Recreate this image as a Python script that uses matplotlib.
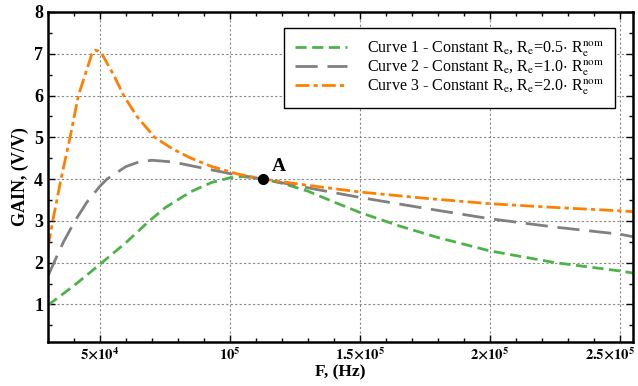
import matplotlib
matplotlib.use("Agg")
import matplotlib.pyplot as plt
import matplotlib.transforms as mtransforms
from matplotlib.ticker import MultipleLocator

plt.rcParams['font.family'] = ['Liberation Serif', 'DejaVu Serif']
plt.rcParams['mathtext.fontset'] = 'stix'

# Frequency in units of 1e4 Hz (scaled to Hz when plotting)
f1 = [3.0, 4.0, 5.0, 6.0, 6.9, 7.52, 8.5, 9.3, 10.0, 10.5, 11.27, 12.0, 13.0, 14.0, 15.0,
      16.5, 18.0, 20.0, 22.5, 25.0, 25.5]
g1 = [0.98, 1.45, 1.96, 2.48, 3.0, 3.32, 3.7, 3.92, 4.03, 4.06, 4.0, 3.9, 3.71, 3.45, 3.2,
      2.88, 2.6, 2.28, 2.0, 1.8, 1.75]

f2 = [3.0, 3.23, 3.6, 4.04, 4.5, 5.0, 5.27, 6.0, 6.5, 7.0, 7.8, 8.5, 9.3, 10.0, 11.27,
      13.0, 15.0, 17.5, 20.0, 22.5, 25.0, 25.5]
g2 = [1.68, 2.0, 2.5, 3.0, 3.45, 3.83, 4.0, 4.3, 4.41, 4.45, 4.41, 4.32, 4.22, 4.13, 4.0,
      3.79, 3.56, 3.3, 3.05, 2.85, 2.68, 2.62]

f3 = [3.0, 3.2, 3.5, 3.85, 4.17, 4.43, 4.69, 4.81, 4.93, 5.07, 5.52, 5.91, 6.42, 7.1, 7.8,
      8.5, 9.3, 10.3, 11.27, 13.0, 15.0, 17.5, 20.0, 22.5, 25.0, 25.5]
g3 = [2.37, 3.05, 4.0, 5.0, 6.0, 6.5, 7.0, 7.08, 7.07, 7.0, 6.5, 6.0, 5.5, 5.0, 4.72,
      4.5, 4.3, 4.12, 4.0, 3.85, 3.69, 3.54, 3.41, 3.32, 3.24, 3.22]

point_A = (11.27, 4.0)

xticks = [5.0, 10.0, 15.0, 20.0, 25.0]
xtick_labels = [r'$\mathbf{5{\times}10^4}$', r'$\mathbf{10^5}$', r'$\mathbf{1.5{\times}10^5}$',
                r'$\mathbf{2{\times}10^5}$', r'$\mathbf{2.5{\times}10^5}$']
yticks = [1, 2, 3, 4, 5, 6, 7, 8]

labels = [r'Curve 1 - Constant R$_\mathrm{e}$, R$_\mathrm{e}$=0.5$\cdot$ R$_\mathrm{e}^\mathrm{nom}$',
          r'Curve 2 - Constant R$_\mathrm{e}$, R$_\mathrm{e}$=1.0$\cdot$ R$_\mathrm{e}^\mathrm{nom}$',
          r'Curve 3 - Constant R$_\mathrm{e}$, R$_\mathrm{e}$=2.0$\cdot$ R$_\mathrm{e}^\mathrm{nom}$']

S = 1e4
fig = plt.figure(figsize=(6.38, 3.86), dpi=100)
ax = fig.add_axes([0.0752, 0.114, 0.917, 0.855])

ax.plot([v * S for v in f1], g1, color='#4cb447', lw=2.0, dashes=(4, 2), label=labels[0])
ax.plot([v * S for v in f2], g2, color='#808080', lw=2.0, dashes=(8, 3.5), label=labels[1])
ax.plot([v * S for v in f3], g3, color='#ff8000', lw=2.0, dashes=(5, 1.5, 1.5, 1.5), label=labels[2])

ax.plot(point_A[0] * S, point_A[1], 'o', color='black', ms=7, zorder=5)
ax.annotate('A', (point_A[0] * S, point_A[1]), xytext=(6, 3), textcoords='offset points',
            fontsize=14, fontweight='bold', ha='left', va='bottom')

ax.set_xlim(3.0e4, 2.55e5)
ax.set_ylim(0.1, 8.0)
ax.set_xticks([v * S for v in xticks])
ax.set_xticklabels(xtick_labels, fontsize=10.5)
ax.xaxis.set_minor_locator(MultipleLocator(1e4))
ax.set_yticks(yticks)
ax.set_yticklabels([str(v) for v in yticks], fontsize=13, fontweight='bold')
ax.yaxis.set_minor_locator(MultipleLocator(0.5))

ax.tick_params(which='both', direction='in', top=True, right=True, width=1)
ax.tick_params(which='major', length=5)
ax.tick_params(which='minor', length=3)
ax.tick_params(axis='x', which='major', pad=3)
for sp in ax.spines.values():
    sp.set_linewidth(1.8)

# nudge the last x tick label left so it is not clipped by the figure edge
last = ax.get_xticklabels()[-1]
last.set_transform(last.get_transform() +
                   mtransforms.ScaledTranslation(-7 / 72, 0, fig.dpi_scale_trans))

ax.grid(True, which='major', color='#888888', linestyle=(0, (2, 2)), lw=0.8)

ax.set_xlabel('F, (Hz)', fontsize=12.5, fontweight='bold', labelpad=1)
ax.set_ylabel('GAIN, (V/V)', fontsize=13, fontweight='bold', labelpad=4)

leg = ax.legend(loc='upper right', bbox_to_anchor=(0.97, 0.951), fontsize=11.5,
                frameon=True, fancybox=False, edgecolor='black', framealpha=1,
                handlelength=3.2, labelspacing=0.0, borderpad=0.7, handletextpad=1.3,
                borderaxespad=0.0)
leg.get_frame().set_linewidth(1.0)

fig.savefig('out.png', dpi=100)
